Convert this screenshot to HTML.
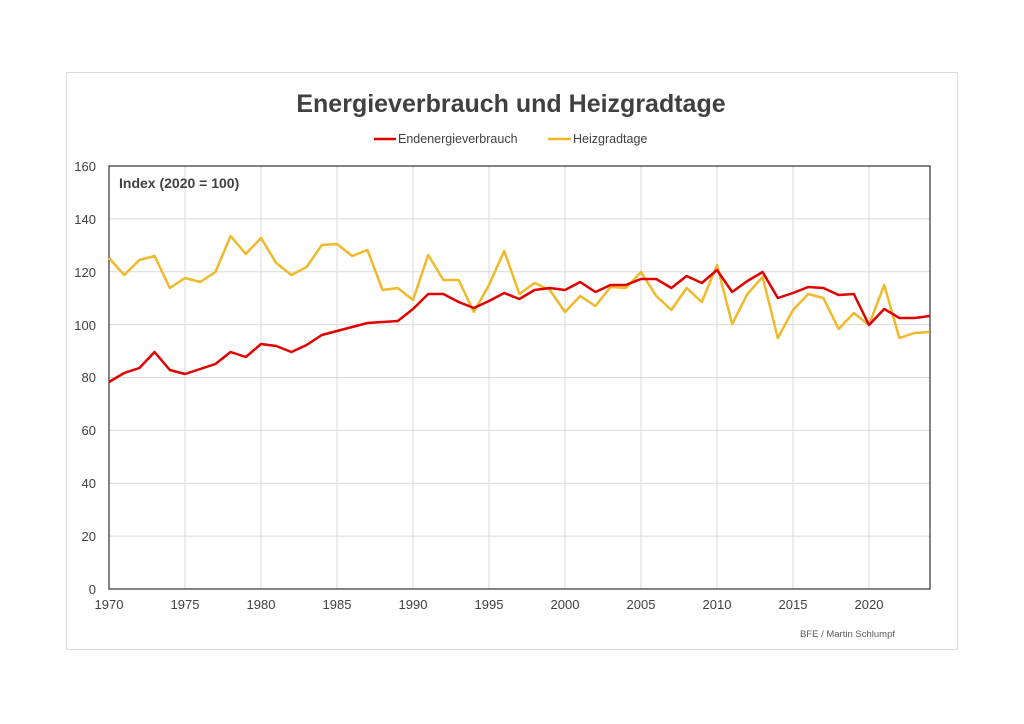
<!DOCTYPE html>
<html><head><meta charset="utf-8"><style>
body{margin:0;background:#fff;}
svg{display:block;font-family:"Liberation Sans",sans-serif;}
</style></head><body>
<svg width="1024" height="724" viewBox="0 0 1024 724">
<rect x="66.5" y="72.5" width="891" height="577" fill="#fff" stroke="#d9d9d9"/>
<text x="511" y="112" text-anchor="middle" font-size="25" font-weight="bold" fill="#404040">Energieverbrauch und Heizgradtage</text>
<line x1="374" y1="139" x2="396" y2="139" stroke="#e00000" stroke-width="2.5"/>
<text x="398" y="143" font-size="12.5" fill="#404040">Endenergieverbrauch</text>
<line x1="548" y1="139" x2="571" y2="139" stroke="#f0b92b" stroke-width="2.5"/>
<text x="573" y="143" font-size="12.5" fill="#404040">Heizgradtage</text>
<g stroke="#d9d9d9" stroke-width="1">
<line x1="109" y1="536.1" x2="930" y2="536.1"/><line x1="109" y1="483.3" x2="930" y2="483.3"/><line x1="109" y1="430.4" x2="930" y2="430.4"/><line x1="109" y1="377.5" x2="930" y2="377.5"/><line x1="109" y1="324.6" x2="930" y2="324.6"/><line x1="109" y1="271.8" x2="930" y2="271.8"/><line x1="109" y1="218.9" x2="930" y2="218.9"/>
<line x1="185" y1="166" x2="185" y2="589"/><line x1="261" y1="166" x2="261" y2="589"/><line x1="337" y1="166" x2="337" y2="589"/><line x1="413" y1="166" x2="413" y2="589"/><line x1="489" y1="166" x2="489" y2="589"/><line x1="565" y1="166" x2="565" y2="589"/><line x1="641" y1="166" x2="641" y2="589"/><line x1="717" y1="166" x2="717" y2="589"/><line x1="793" y1="166" x2="793" y2="589"/><line x1="869" y1="166" x2="869" y2="589"/>
</g>
<rect x="109" y="166" width="821" height="423" fill="none" stroke="#404040" stroke-width="1.3"/>
<g font-size="13" fill="#404040" text-anchor="end">
<text x="96" y="594">0</text><text x="96" y="541">20</text><text x="96" y="488">40</text><text x="96" y="435">60</text><text x="96" y="382">80</text><text x="96" y="330">100</text><text x="96" y="277">120</text><text x="96" y="224">140</text><text x="96" y="171">160</text>
</g>
<g font-size="13" fill="#404040" text-anchor="middle">
<text x="109" y="609">1970</text><text x="185" y="609">1975</text><text x="261" y="609">1980</text><text x="337" y="609">1985</text><text x="413" y="609">1990</text><text x="489" y="609">1995</text><text x="565" y="609">2000</text><text x="641" y="609">2005</text><text x="717" y="609">2010</text><text x="793" y="609">2015</text><text x="869" y="609">2020</text>
</g>
<text x="119" y="188" font-size="14" font-weight="bold" fill="#404040">Index (2020 = 100)</text>
<text x="895" y="637" text-anchor="end" font-size="9.5" fill="#595959">BFE / Martin Schlumpf</text>
<polyline fill="none" stroke="#f0b92b" stroke-width="2.5" stroke-linejoin="round" points="109,258 124.2,275 139.4,260 154.6,256 169.8,288 185,278 200.2,282 215.4,272 230.6,236 245.8,254 261,238 276.2,263 291.4,275 306.6,267 321.8,245 337,244 352.2,256 367.4,250 382.6,290 397.8,288 413,300 428.2,255 443.4,280 458.6,280 473.8,312 489,285 504.2,251 519.4,294 534.6,283 549.8,290 565,312 580.2,296 595.4,306 610.6,287 625.8,288 641,272 656.2,296 671.4,310 686.6,288 701.8,302 717,265 732.2,324 747.4,294 762.6,277 777.8,338 793,310 808.2,294 823.4,298 838.6,329 853.8,313 869,325 884.2,285 899.4,338 914.6,333 929.8,332"/>
<polyline fill="none" stroke="#e00000" stroke-width="2.5" stroke-linejoin="round" points="109,382 124.2,373 139.4,368 154.6,352 169.8,370 185,374 200.2,369 215.4,364 230.6,352 245.8,357 261,344 276.2,346 291.4,352 306.6,345 321.8,335 337,331 352.2,327 367.4,323 382.6,322 397.8,321 413,309 428.2,294 443.4,294 458.6,302 473.8,308 489,301 504.2,293 519.4,299 534.6,290 549.8,288 565,290 580.2,282 595.4,292 610.6,285 625.8,285 641,279 656.2,279 671.4,288 686.6,276 701.8,283 717,270 732.2,292 747.4,281 762.6,272 777.8,298 793,293 808.2,287 823.4,288 838.6,295 853.8,294 869,325 884.2,309 899.4,318 914.6,318 929.8,316"/>
</svg>
</body></html>
